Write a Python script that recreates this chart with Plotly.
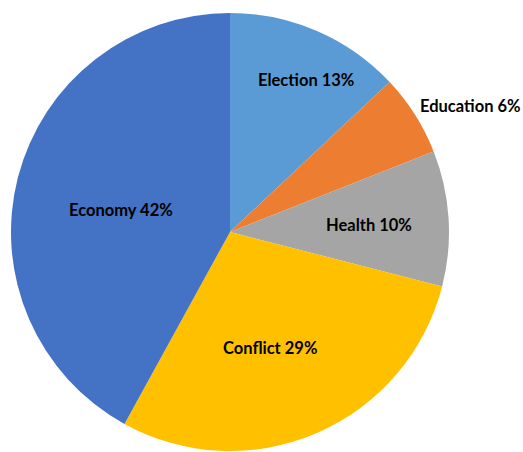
import plotly.graph_objects as go

categories = ["Election", "Education", "Health", "Conflict", "Economy"]
values = [13, 6, 10, 29, 42]
colors = ["#5B9BD5", "#ED7D31", "#A5A5A5", "#FFC000", "#4472C4"]
# label centres in pixels (x, y from top) on the 523x452 canvas
label_px = [(306, 80), (470, 106), (369, 225), (270, 348), (121, 210)]

W, H = 523, 452

fig = go.Figure(go.Pie(
    labels=categories,
    values=values,
    marker=dict(colors=colors, line=dict(width=0)),
    sort=False,
    direction="clockwise",
    rotation=0,
    textinfo="none",
    hoverinfo="label+percent",
    showlegend=False,
    domain=dict(x=[11 / W, 449 / W], y=[1 / H, 439 / H]),
))

total = sum(values)
for cat, v, (px, py) in zip(categories, values, label_px):
    fig.add_annotation(
        x=px / W, y=1 - py / H, xref="paper", yref="paper",
        text=f"<b>{cat} {round(100 * v / total)}%</b>",
        showarrow=False, xanchor="center", yanchor="middle",
        font=dict(family="Lato, Liberation Sans, Arial", size=16.5, color="#000000"),
    )

fig.update_layout(
    width=W, height=H,
    margin=dict(l=0, r=0, t=0, b=0),
    paper_bgcolor="white",
    plot_bgcolor="white",
)

fig.write_html("out.html")
